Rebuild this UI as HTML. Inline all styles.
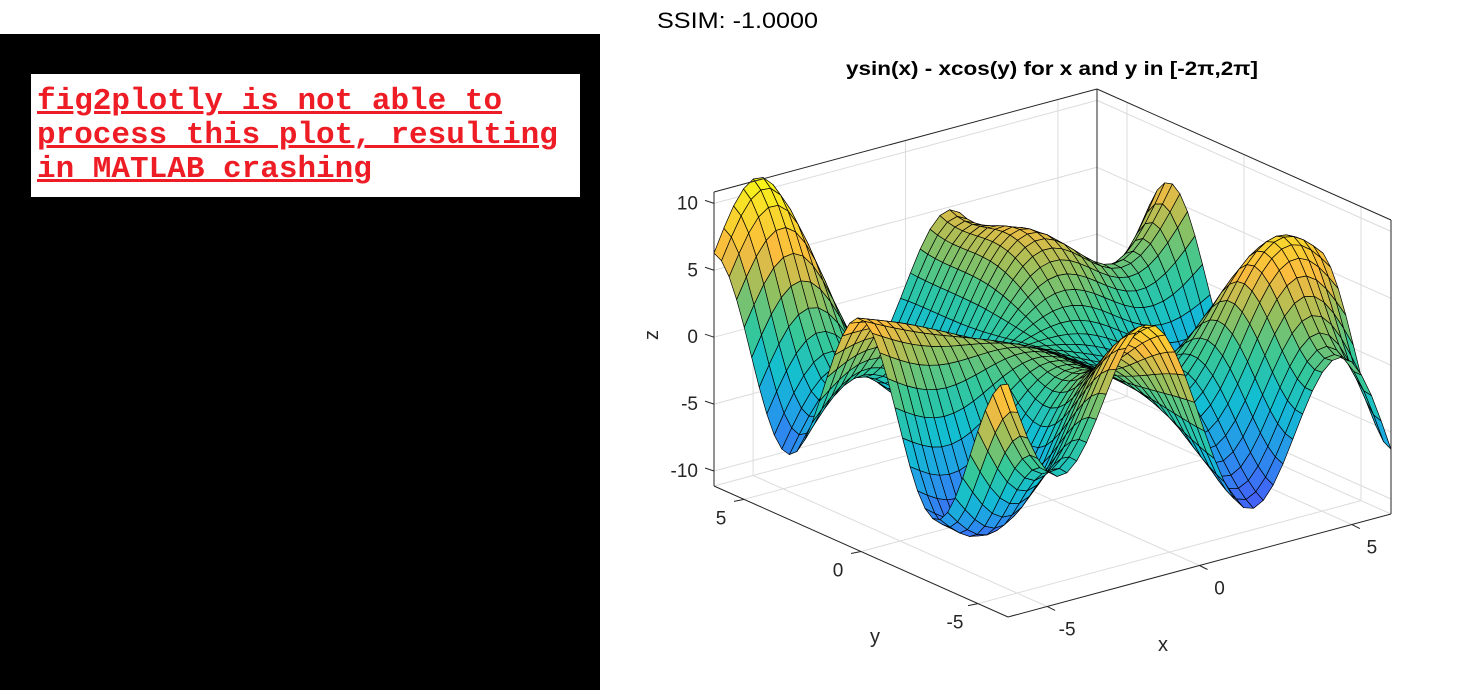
<!DOCTYPE html>
<html><head><meta charset="utf-8"><style>
body{margin:0;width:1475px;height:690px;background:#fff;overflow:hidden;position:relative;font-family:"Liberation Sans",sans-serif}
#left{position:absolute;left:0;top:34px;width:600px;height:656px;background:#000}
#msg{position:absolute;left:31px;top:74px;width:549px;height:123px;background:#fff}
#msg div{position:absolute;left:6px;font-family:"Liberation Mono",monospace;font-weight:bold;font-size:31px;color:#ee1c25;text-decoration:underline;white-space:pre;line-height:34px}
svg{position:absolute;left:0;top:0}
</style></head><body>
<div id="left"></div>
<div id="msg">
<div style="top:11px">fig2plotly is not able to</div>
<div style="top:45px">process this plot, resulting</div>
<div style="top:79px">in MATLAB crashing</div>
</div>
<svg id="chart" width="1475" height="690">
<text x="657" y="28" font-size="22" textLength="161" lengthAdjust="spacingAndGlyphs" fill="#000">SSIM: -1.0000</text>
<text x="846" y="75" font-size="19" font-weight="bold" textLength="412" lengthAdjust="spacingAndGlyphs" fill="#000">ysin(x) - xcos(y) for x and y in [-2π,2π]</text>
<g id="grid"></g><g id="surf"></g><g id="axes"></g>
</svg>
<script>
const xTicks=[-5,0,5];
const yTicks=[-5,0,5];
const zTicks=[-10,-5,0,5,10];
const N=40;
const LIM=2*Math.PI;
const zMin=-11.12, zMax=10.85;
const gridX=[],gridY=[];
for(let i=0;i<N;i++){gridX.push(-LIM+2*LIM*i/(N-1));gridY.push(-LIM+2*LIM*i/(N-1));}
const zVals=gridY.map(y=>gridX.map(x=>y*Math.sin(x)-x*Math.cos(y)));

const O=[1008,617],UX=[383,-103],VY=[-294,-131],WZ=[0,-294];
function P(x,y,z){const u=(x+LIM)/(2*LIM),v=(y+LIM)/(2*LIM),w=(z-zMin)/(zMax-zMin);
return [O[0]+u*UX[0]+v*VY[0]+w*WZ[0],O[1]+u*UX[1]+v*VY[1]+w*WZ[1]];}
const NS='http://www.w3.org/2000/svg';
function line(g,a,b,st,w,name){const l=document.createElementNS(NS,'line');
l.setAttribute('x1',a[0]);l.setAttribute('y1',a[1]);l.setAttribute('x2',b[0]);l.setAttribute('y2',b[1]);
l.setAttribute('stroke',st);l.setAttribute('stroke-width',w);


g.appendChild(l);}
function text(g,x,y,s,anchor,name,size){const t=document.createElementNS(NS,'text');
t.setAttribute('x',x);t.setAttribute('y',y);t.setAttribute('text-anchor',anchor);t.setAttribute('font-size',size||19);t.setAttribute('fill','#262626');t.textContent=s;


g.appendChild(t);return t;}
const G=document.getElementById('grid'),S=document.getElementById('surf'),A=document.getElementById('axes');
const gc='#dcdcdc';
zTicks.forEach(z=>{line(G,P(-LIM,LIM,z),P(LIM,LIM,z),gc,1,'z-gridline');line(G,P(LIM,LIM,z),P(LIM,-LIM,z),gc,1,'z-gridline');});
xTicks.forEach(x=>{line(G,P(x,-LIM,zMin),P(x,LIM,zMin),gc,1,'x-gridline');line(G,P(x,LIM,zMin),P(x,LIM,zMax),gc,1,'x-gridline');});
yTicks.forEach(y=>{line(G,P(-LIM,y,zMin),P(LIM,y,zMin),gc,1,'y-gridline');line(G,P(LIM,y,zMin),P(LIM,y,zMax),gc,1,'y-gridline');});
line(G,P(-LIM,LIM,zMin),P(LIM,LIM,zMin),gc,1,'floor-back-edge');line(G,P(LIM,LIM,zMin),P(LIM,-LIM,zMin),gc,1,'floor-back-edge');
line(G,P(LIM,LIM,zMin),P(LIM,LIM,zMax),'#262626',1,'back-vertical-edge');

// parula approx
const stops=[[0,[62,38,168]],[0.125,[71,91,250]],[0.25,[39,150,235]],[0.375,[18,190,210]],[0.5,[55,200,151]],[0.625,[151,191,93]],[0.75,[252,187,62]],[0.875,[248,218,43]],[1,[249,251,20]]];
function parula(t){t=Math.max(0,Math.min(1,t));for(let i=1;i<stops.length;i++){if(t<=stops[i][0]){const a=stops[i-1],b=stops[i],f=(t-a[0])/(b[0]-a[0]);
return 'rgb('+a[1].map((c,k)=>Math.round(c+(b[1][k]-c)*f)).join(',')+')';}}return 'rgb(249,251,20)';}
let dmin=Infinity,dmax=-Infinity;zVals.forEach(r=>r.forEach(v=>{dmin=Math.min(dmin,v);dmax=Math.max(dmax,v);}));
const quads=[];
for(let j=0;j<N-1;j++)for(let i=0;i<N-1;i++){
const xs=[gridX[i],gridX[i+1],gridX[i+1],gridX[i]],ys=[gridY[j],gridY[j],gridY[j+1],gridY[j+1]];
const zs=[zVals[j][i],zVals[j][i+1],zVals[j+1][i+1],zVals[j+1][i]];
const cx=(xs[0]+xs[1])/2,cy=(ys[0]+ys[2])/2,cz=(zs[0]+zs[1]+zs[2]+zs[3])/4;
const d=-0.609*(cx+LIM)/(2*LIM)-0.793*(cy+LIM)/(2*LIM)+0.5*0.75*(cz-zMin)/(zMax-zMin);
quads.push({xs,ys,zs,c:zs[0],d});}
quads.sort((a,b)=>a.d-b.d);
quads.forEach(q=>{const p=document.createElementNS(NS,'polygon');
p.setAttribute('points',q.xs.map((x,k)=>P(x,q.ys[k],q.zs[k]).map(v=>v.toFixed(1)).join(',')).join(' '));
p.setAttribute('fill',parula((q.c-dmin)/(dmax-dmin)));p.setAttribute('stroke','#000');p.setAttribute('stroke-width','0.7');p.setAttribute('stroke-linejoin','round');


S.appendChild(p);});

// axes box
const k='#262626';
line(A,P(-LIM,LIM,zMin),P(-LIM,-LIM,zMin),k,1,'y-axis-line');
line(A,P(-LIM,-LIM,zMin),P(LIM,-LIM,zMin),k,1,'x-axis-line');
line(A,P(-LIM,LIM,zMin),P(-LIM,LIM,zMax),k,1,'z-axis-line');
line(A,P(-LIM,LIM,zMax),P(LIM,LIM,zMax),k,1,'box-top-edge');
line(A,P(LIM,LIM,zMax),P(LIM,-LIM,zMax),k,1,'box-top-edge');
line(A,P(LIM,-LIM,zMin),P(LIM,-LIM,zMax),k,1,'box-right-edge');
zTicks.forEach(z=>{const p=P(-LIM,LIM,z);line(A,[p[0]-9,p[1]-3],p,k,1,'z-tick');text(A,p[0]-16,p[1]+6,String(z),'end','z-tick-label');});
xTicks.forEach(x=>{const p=P(x,-LIM,zMin);line(A,p,[p[0]+8,p[1]+4],k,1,'x-tick');text(A,p[0]+20,p[1]+29,String(x),'middle','x-tick-label');});
yTicks.forEach(y=>{const p=P(-LIM,y,zMin);line(A,p,[p[0]-10,p[1]+2],k,1,'y-tick');text(A,p[0]-23,p[1]+25,String(y),'middle','y-tick-label');});
text(A,1163,651,'x','middle','x-axis-title',20);
text(A,875,643,'y','middle','y-axis-title',20);
const zt=text(A,652,335,'z','middle','z-axis-title',20);zt.setAttribute('transform','rotate(-90 652 335)');zt.setAttribute('dy','6');
</script>
</body></html>
